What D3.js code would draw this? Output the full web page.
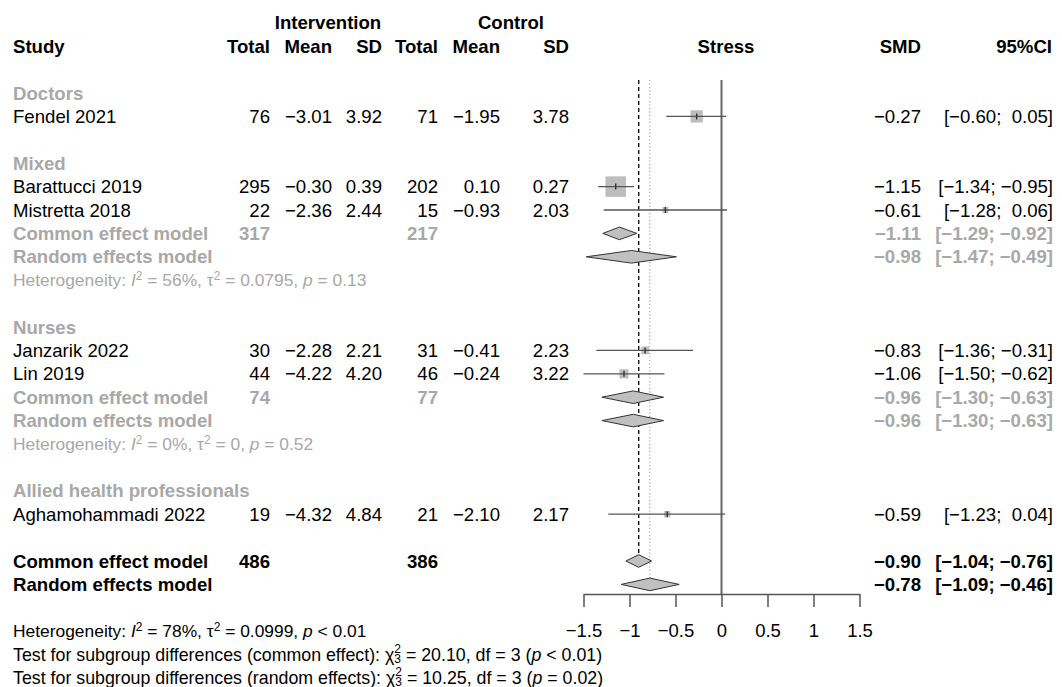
<!DOCTYPE html>
<html>
<head>
<meta charset="utf-8">
<script src="https://cdn.jsdelivr.net/npm/d3@7"></script>
<style>
  body { margin: 0; background: #fff; }
  svg text { font-family: "Liberation Sans", Arial, Helvetica, sans-serif; white-space: pre; }
</style>
</head>
<body>
<svg id="forest"></svg>
<script>
// ---- data ----
var groups = ["Doctors", "Mixed", "Nurses", "Allied health professionals"];
var studies = ["Fendel 2021", "Barattucci 2019", "Mistretta 2018", "Janzarik 2022", "Lin 2019", "Aghamohammadi 2022"];
var studyGroup = [0, 1, 1, 2, 2, 3];
var nE    = [76, 295, 22, 30, 44, 19];
var meanE = [-3.01, -0.30, -2.36, -2.28, -4.22, -4.32];
var sdE   = [3.92, 0.39, 2.44, 2.21, 4.20, 4.84];
var nC    = [71, 202, 15, 31, 46, 21];
var meanC = [-1.95, 0.10, -0.93, -0.41, -0.24, -2.10];
var sdC   = [3.78, 0.27, 2.03, 2.23, 3.22, 2.17];
var smd   = [-0.27, -1.15, -0.61, -0.83, -1.06, -0.59];
var lower = [-0.60, -1.34, -1.28, -1.36, -1.50, -1.23];
var upper = [0.05, -0.95, 0.06, -0.31, -0.62, 0.04];
var weight = [19.2, 53.4, 4.5, 7.4, 10.5, 5.0];   // % weight (common effect), box size

// pooled results for subgroups with more than one study
var subGroup  = [1, 2];
var subTotE   = [317, 74];
var subTotC   = [217, 77];
var subCommon = [[-1.11, -1.29, -0.92], [-0.96, -1.30, -0.63]];
var subRandom = [[-0.98, -1.47, -0.49], [-0.96, -1.30, -0.63]];
var subHet    = [["56%", "0.0795", "= 0.13"], ["0%", "0", "= 0.52"]];

var totE = 486, totC = 386;
var overallCommon = [-0.90, -1.04, -0.76];
var overallRandom = [-0.78, -1.09, -0.46];
var overallHet = ["78%", "0.0999", "< 0.01"];
var subgroupTests = [["common effect", "20.10", "3", "< 0.01"], ["random effects", "10.25", "3", "= 0.02"]];

var xTicks = [-1.5, -1, -0.5, 0, 0.5, 1, 1.5];

// ---- layout ----
var W = 1062, H = 687;
var gray = "#a8a8a8";
var fs = 18.6, fsSmall = 17.4;
var col = {study: 13, totE: 270, meanE: 332, sdE: 382, totC: 438, meanC: 500, sdC: 569, smd: 921, ci: 1053};

var svg = d3.select("#forest").attr("width", W).attr("height", H);
var x = d3.scaleLinear().domain([-1.5, 1.5]).range([583.5, 859.5]);
var rowY = d3.scaleLinear().domain([0, 1]).range([93, 116.4]);
var f2 = d3.format(".2f");

function ci(l, u) {
  return "[" + f2(l) + "; " + (u >= 0 ? " " : "") + f2(u) + "]";
}

function txt(xp, row, s, o) {
  o = o || {};
  return svg.append("text")
    .attr("x", xp)
    .attr("y", rowY(row))
    .attr("dy", "0.35em")
    .attr("text-anchor", o.anchor || "end")
    .style("font-size", (o.size || fs) + "px")
    .style("font-weight", o.bold ? "bold" : "normal")
    .style("fill", o.color || "#000")
    .text(s);
}

// build row list
var rows = [];
var r = 0;
groups.forEach(function (g, gi) {
  rows.push({type: "group", label: g, row: r++});
  studies.forEach(function (s, i) {
    if (studyGroup[i] === gi) rows.push({type: "study", i: i, row: r++});
  });
  var si = subGroup.indexOf(gi);
  if (si >= 0) {
    rows.push({type: "subCommon", si: si, row: r++});
    rows.push({type: "subRandom", si: si, row: r++});
    rows.push({type: "subHet", si: si, row: r++});
  }
  r++;
});
var rowCommon = r, rowRandom = r + 1, rowHet = r + 3;

// ---- headers ----
txt(328, -3, "Intervention", {anchor: "middle", bold: true});
txt(511, -3, "Control", {anchor: "middle", bold: true});
txt(col.study, -2, "Study", {anchor: "start", bold: true});
[["totE", "Total"], ["meanE", "Mean"], ["sdE", "SD"], ["totC", "Total"], ["meanC", "Mean"], ["sdC", "SD"],
 ["smd", "SMD"], ["ci", "95%CI"]].forEach(function (h) {
  txt(col[h[0]] - (h[0] === "ci" ? 1 : 0), -2, h[1], {bold: true});
});
txt(726, -2, "Stress", {anchor: "middle", bold: true});

// ---- reference lines ----
var topY = rowY(0) - 13;
var axisY = 594;
svg.append("line")
  .attr("x1", x(0)).attr("x2", x(0)).attr("y1", topY).attr("y2", axisY)
  .attr("stroke", "#666").attr("stroke-width", 2);
svg.append("line")
  .attr("x1", x(overallCommon[0])).attr("x2", x(overallCommon[0]))
  .attr("y1", topY).attr("y2", rowY(rowCommon) - 6)
  .attr("stroke", "#111").attr("stroke-width", 1.4).attr("stroke-dasharray", "4,3");
svg.append("line")
  .attr("x1", x(overallRandom[0])).attr("x2", x(overallRandom[0]))
  .attr("y1", topY).attr("y2", rowY(rowRandom) - 6)
  .attr("stroke", "#888").attr("stroke-width", 1).attr("stroke-dasharray", "1,2.5");

function diamond(est, row) {
  var y = rowY(row);
  svg.append("polygon")
    .attr("points", [[x(est[1]), y], [x(est[0]), y - 6.3], [x(est[2]), y], [x(est[0]), y + 6.3]].join(" "))
    .attr("fill", "#c0c0c0")
    .attr("stroke", "#333")
    .attr("stroke-width", 1);
}

// ---- rows ----
rows.forEach(function (d) {
  if (d.type === "group") {
    txt(col.study, d.row, d.label, {anchor: "start", bold: true, color: gray});
  } else if (d.type === "study") {
    var i = d.i, y = rowY(d.row);
    txt(col.study, d.row, studies[i], {anchor: "start"});
    txt(col.totE, d.row, nE[i]);
    txt(col.meanE, d.row, f2(meanE[i]));
    txt(col.sdE, d.row, f2(sdE[i]));
    txt(col.totC, d.row, nC[i]);
    txt(col.meanC, d.row, f2(meanC[i]));
    txt(col.sdC, d.row, f2(sdC[i]));
    txt(col.smd, d.row, f2(smd[i]));
    txt(col.ci, d.row, ci(lower[i], upper[i]));
    var s = 2.8 * Math.sqrt(weight[i]);
    svg.append("rect")
      .attr("x", x(smd[i]) - s / 2).attr("y", y - s / 2)
      .attr("width", s).attr("height", s)
      .attr("fill", "#bdbdbd");
    svg.append("line")
      .attr("x1", x(lower[i])).attr("x2", x(upper[i])).attr("y1", y).attr("y2", y)
      .attr("stroke", "#555").attr("stroke-width", 1.3);
    svg.append("line")
      .attr("x1", x(smd[i])).attr("x2", x(smd[i])).attr("y1", y - 3).attr("y2", y + 3)
      .attr("stroke", "#333").attr("stroke-width", 1.4);
  } else if (d.type === "subCommon") {
    var e = subCommon[d.si];
    txt(col.study, d.row, "Common effect model", {anchor: "start", bold: true, color: gray});
    txt(col.totE, d.row, subTotE[d.si], {bold: true, color: gray});
    txt(col.totC, d.row, subTotC[d.si], {bold: true, color: gray});
    txt(col.smd, d.row, f2(e[0]), {bold: true, color: gray});
    txt(col.ci, d.row, ci(e[1], e[2]), {bold: true, color: gray});
    diamond(e, d.row);
  } else if (d.type === "subRandom") {
    var e2 = subRandom[d.si];
    txt(col.study, d.row, "Random effects model", {anchor: "start", bold: true, color: gray});
    txt(col.smd, d.row, f2(e2[0]), {bold: true, color: gray});
    txt(col.ci, d.row, ci(e2[1], e2[2]), {bold: true, color: gray});
    diamond(e2, d.row);
  } else if (d.type === "subHet") {
    hetText(d.row, subHet[d.si], gray);
  }
});

// ---- overall ----
txt(col.study, rowCommon, "Common effect model", {anchor: "start", bold: true});
txt(col.totE, rowCommon, totE, {bold: true});
txt(col.totC, rowCommon, totC, {bold: true});
txt(col.smd, rowCommon, f2(overallCommon[0]), {bold: true});
txt(col.ci, rowCommon, ci(overallCommon[1], overallCommon[2]), {bold: true});
diamond(overallCommon, rowCommon);
txt(col.study, rowRandom, "Random effects model", {anchor: "start", bold: true});
txt(col.smd, rowRandom, f2(overallRandom[0]), {bold: true});
txt(col.ci, rowRandom, ci(overallRandom[1], overallRandom[2]), {bold: true});
diamond(overallRandom, rowRandom);

hetText(rowHet, overallHet, "#000");
subgroupTests.forEach(function (t, k) {
  var el = txt(col.study, rowHet + 1 + k, "", {anchor: "start", size: 17.8});
  el.append("tspan").text("Test for subgroup differences (" + t[0] + "): \u03c7");
  el.append("tspan").attr("dy", 2).style("font-size", "12px").text(t[2]);
  el.append("tspan").attr("dx", -6.7).attr("dy", -10).style("font-size", "12px").text("2");
  el.append("tspan").attr("dy", 8).text(" = " + t[1] + ", df = " + t[2] + " (");
  el.append("tspan").style("font-style", "italic").text("p");
  el.append("tspan").text(" " + t[3] + ")");
});

function hetText(row, h, color) {
  var el = txt(col.study, row, "", {anchor: "start", size: fsSmall, color: color});
  el.append("tspan").text("Heterogeneity: ");
  el.append("tspan").style("font-style", "italic").text("I");
  el.append("tspan").attr("dy", -6).style("font-size", "12px").text("2");
  el.append("tspan").attr("dy", 6).text(" = " + h[0] + ", \u03c4");
  el.append("tspan").attr("dy", -6).style("font-size", "12px").text("2");
  el.append("tspan").attr("dy", 6).text(" = " + h[1] + ", ");
  el.append("tspan").style("font-style", "italic").text("p");
  el.append("tspan").text(" " + h[2]);
}

// ---- x axis ----
var axis = d3.axisBottom(x)
  .tickValues(xTicks)
  .tickSize(13)
  .tickSizeOuter(0)
  .tickPadding(17)
  .tickFormat(d3.format("~g"));
var gx = svg.append("g")
  .attr("transform", "translate(0," + axisY + ")")
  .call(axis);
gx.select(".domain").attr("stroke", "#555").attr("stroke-width", 1.5);
gx.selectAll(".tick line").attr("stroke", "#555").attr("stroke-width", 1.5);
gx.selectAll(".tick text")
  .attr("fill", "#000")
  .style("font-size", "18.5px")
  .style("font-family", "'Liberation Sans', Arial, sans-serif");
</script>
</body>
</html>
